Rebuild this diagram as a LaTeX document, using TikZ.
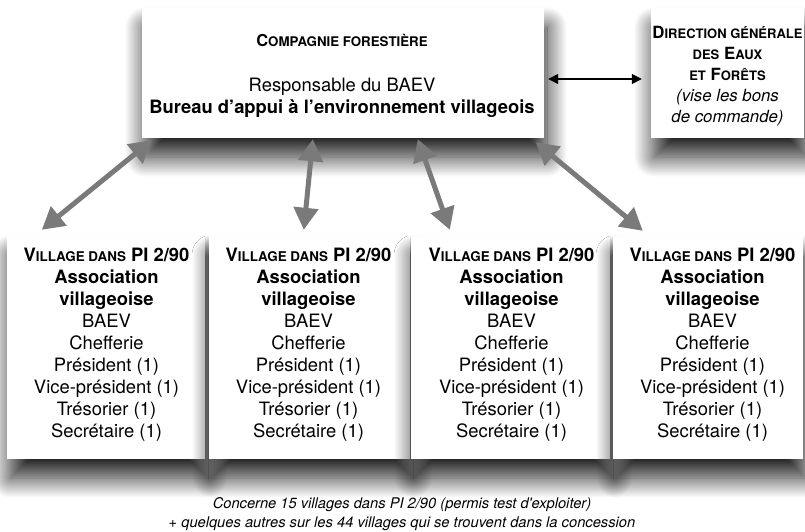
\documentclass[tikz,border=0pt]{standalone}
\usepackage{fontspec}
\setmainfont{TeX Gyre Heros}
\usetikzlibrary{arrows.meta,shadows.blur}
\definecolor{linkgray}{RGB}{122,122,122}

% uppercase letters set smaller, as small capitals
\newcommand{\lowcaps}[2]{{\fontsize{#1}{#1}\selectfont #2}}

\newcommand{\villagelines}{%
  \textbf{V\lowcaps{13.4}{ILLAGE DANS} PI 2/90}\\
  \textbf{Association}\\
  \textbf{villageoise}\\
  BAEV\\
  Chefferie\\
  Président (1)\\
  Vice-président (1)\\
  Trésorier (1)\\
  Secrétaire (1)}

\tikzset{
  card/.style={fill=white, draw=none, inner sep=0pt,
    blur shadow={shadow xshift=3pt, shadow yshift=-19pt,
      shadow blur radius=20pt, shadow opacity=88, shadow blur steps=28}},
  body/.style={inner sep=0pt, align=center, font=\fontsize{18.4}{22}\selectfont},
  side/.style={inner sep=0pt, align=center, font=\fontsize{16.8}{21}\selectfont},
  note/.style={inner sep=0pt, align=center, font=\fontsize{14.7}{18.5}\selectfont\itshape},
  link/.style={draw=linkgray, line width=5pt,
    {Triangle[length=22pt,width=24pt]}-{Triangle[length=22pt,width=24pt]}},
  thinlink/.style={draw=black, line width=1.5pt,
    {Triangle[length=10pt,width=10pt]}-{Triangle[length=10pt,width=10pt]}}
}

\begin{document}
\begin{tikzpicture}[x=1pt,y=-1pt]
\useasboundingbox (0,0) rectangle (805,532);

% company office and forestry administration
\node[card, minimum width=402pt, minimum height=130pt] (comp) at (343,73) {};
\node[card, minimum width=153pt, minimum height=130pt] (dgef) at (727.5,73) {};

\node[inner sep=0pt, anchor=base, font=\fontsize{16.4}{20}\selectfont\bfseries]
  (comptitle) at (342,47) {C\lowcaps{13.3}{OMPAGNIE FORESTIÈRE}};
\node[body] (compbody) at (342,97.5)
  {Responsable du BAEV\\ \textbf{Bureau d’appui à l’environnement villageois}};

\node[side] (dgeftext) at (727.5,76)
  {\textbf{D\lowcaps{13}{IRECTION GÉNÉRALE}}\\
   \textbf{\lowcaps{13}{DES} E\lowcaps{13}{AUX}}\\
   \textbf{\lowcaps{13}{ET} F\lowcaps{13}{ORÊTS}}\\
   \textit{(vise les bons}\\
   \textit{de commande)}};

% village associations
\node[card, minimum width=198pt, minimum height=223pt] (v1) at (106,347.5) {};
\node[card, minimum width=201pt, minimum height=223pt] (v2) at (309.5,347.5) {};
\node[card, minimum width=199pt, minimum height=223pt] (v3) at (510.5,347.5) {};
\node[card, minimum width=190pt, minimum height=223pt] (v4) at (708,347.5) {};

\node[body] (v1text) at (106.5,345) {\villagelines};
\node[body] (v2text) at (308.5,345) {\villagelines};
\node[body] (v3text) at (511.5,345) {\villagelines};
\node[body] (v4text) at (712.5,345) {\villagelines};

% links between the office and the villages
\draw[link] ([xshift=10pt,yshift=-2pt]comp.south west) -- ([xshift=35pt,yshift=6pt]v1.north west);
\draw[link] ([xshift=171pt,yshift=-1pt]comp.south west) -- ([xshift=95pt,yshift=6pt]v2.north west);
\draw[link] ([xshift=276pt,yshift=-1pt]comp.south west) -- ([xshift=39pt,yshift=6pt]v3.north west);
\draw[link] ([xshift=394pt,yshift=-4pt]comp.south west) -- ([xshift=30pt,yshift=5pt]v4.north west);

% link with the forestry administration
\draw[thinlink] ([xshift=4pt,yshift=-6pt]comp.east) -- ([xshift=-9pt,yshift=-6pt]dgef.west);

% footnote
\node[note] (footnote) at (402,514)
  {Concerne 15 villages dans PI 2/90 (permis test d\textquotesingle exploiter)\\
   + quelques autres sur les 44 villages qui se trouvent dans la concession};
\end{tikzpicture}
\end{document}
